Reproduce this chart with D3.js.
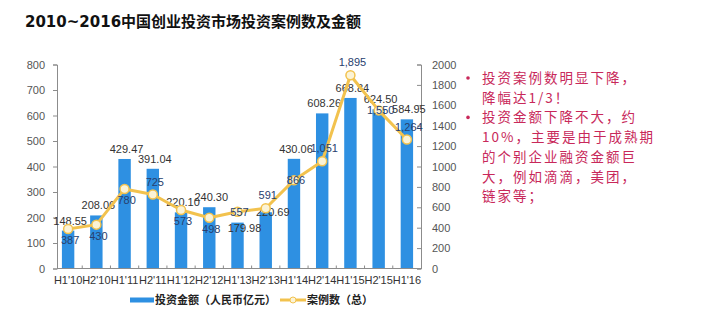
<!DOCTYPE html>
<html><head><meta charset="utf-8">
<script src="https://cdn.jsdelivr.net/npm/d3@7"></script>
<style>
html,body{margin:0;padding:0;background:#fff;}
svg{display:block;font-family:Arial,"Liberation Sans","Noto Sans CJK SC",sans-serif;}
</style></head>
<body>
<script>
const title = "2010~2016中国创业投资市场投资案例数及金额";
const categories = ["H1'10","H2'10","H1'11","H2'11","H1'12","H2'12","H1'13","H2'13","H1'14","H2'14","H1'15","H2'15","H1'16"];
const amount = [148.55,208.06,429.47,391.04,220.10,240.30,179.98,220.69,430.06,608.26,668.84,624.50,584.95];
const cases = [387,430,780,725,573,498,557,591,866,1051,1895,1550,1264];
const amountPlacement = ["above","above","above","above","above","above","inside","center","above","above","above","above","above"];
const casePlacement = ["below","below","below","above","below","below","center","above","center","above","above","center","above"];
const leftTicks = [0,100,200,300,400,500,600,700,800];
const rightTicks = [0,200,400,600,800,1000,1200,1400,1600,1800,2000];
const legendNames = ["投资金额（人民币亿元）","案例数（总）"];
const notes = [
  ["投资案例数明显下降，","降幅达1/3！"],
  ["投资金额下降不大，约","10%，主要是由于成熟期","的个别企业融资金额巨","大，例如滴滴，美团，","链家等；"]
];

(function(){
const W=702,H=325;
const svg=d3.select("body").append("svg").attr("width",W).attr("height",H);
const barColor="#2e90e2", lineColor="#f2c24e", textRed="#c8285a", axisColor="#8c8c8c";

svg.append("text").attr("x",25).attr("y",27).text(title)
  .attr("font-family","'DejaVu Sans','Noto Sans CJK SC',sans-serif").attr("font-size",15).attr("font-weight",700).attr("fill","#111");

const pLeft=57, pRight=421, pTop=64.5, pBottom=268.5;
const x=d3.scaleBand().domain(categories).range([54,pRight]).paddingInner(0.56).paddingOuter(0.28);
const yL=d3.scaleLinear().domain([0,800]).range([pBottom,pTop]);
const yR=d3.scaleLinear().domain([0,2000]).range([pBottom,pTop]);

// bars
svg.append("g").selectAll("rect").data(amount).join("rect")
  .attr("x",(d,i)=>x(categories[i])).attr("width",x.bandwidth())
  .attr("y",d=>yL(d)).attr("height",d=>yL(0)-yL(d)).attr("fill",barColor);

// axes
const gL=svg.append("g").attr("transform",`translate(${pLeft},0)`)
  .call(d3.axisLeft(yL).tickValues(leftTicks).tickSize(4).tickPadding(8));
const gR=svg.append("g").attr("transform",`translate(${pRight},0)`)
  .call(d3.axisRight(yR).tickValues(rightTicks).tickFormat(d3.format("d")).tickSize(-4).tickPadding(11));
[gL,gR].forEach(g=>{
  g.select(".domain").attr("stroke",axisColor);
  g.selectAll(".tick line").attr("stroke",axisColor);
  g.selectAll(".tick text").attr("fill","#555").attr("font-size",11).attr("font-family","Arial,'Liberation Sans',sans-serif");
});
const gX=svg.append("g").attr("transform",`translate(0,${pBottom})`)
  .call(d3.axisBottom(x).tickSize(0).tickPadding(6));
gX.select(".domain").attr("stroke",axisColor).attr("d",`M${pLeft},0H${pRight}`);
gX.selectAll(".tick text").attr("fill","#333").attr("font-size",11).attr("font-family","Arial,'Liberation Sans',sans-serif").attr("dy","0.9em");
const bounds=categories.slice(1).map(c=>x(c)-x.step()*x.paddingInner()/2);
svg.append("g").selectAll("line").data(bounds).join("line")
  .attr("x1",d=>d).attr("x2",d=>d).attr("y1",pBottom).attr("y2",pBottom-3).attr("stroke",axisColor);

// bar labels
const aOff={above:-6,inside:9,center:4};
svg.append("g").selectAll("text").data(amount).join("text")
  .attr("x",(d,i)=>x(categories[i])+x.bandwidth()/2+(amountPlacement[i]==="above"?2:7)).attr("y",(d,i)=>yL(d)+aOff[amountPlacement[i]])
  .attr("text-anchor","middle").attr("font-size",11).attr("fill","#333").text(d=>d.toFixed(2));

// line
const cx=(i)=>x(categories[i])+x.bandwidth()/2;
svg.append("path").datum(cases)
  .attr("d",d3.line().x((d,i)=>cx(i)).y(d=>yR(d)))
  .attr("fill","none").attr("stroke",lineColor).attr("stroke-width",3).attr("stroke-linejoin","round");
svg.append("g").selectAll("circle").data(cases).join("circle")
  .attr("cx",(d,i)=>cx(i)).attr("cy",d=>yR(d)).attr("r",4.5)
  .attr("fill","#fbf3d6").attr("stroke",lineColor).attr("stroke-width",1.5);
const fmt=d3.format(",");
svg.append("g").selectAll("text").data(cases).join("text")
  .attr("x",(d,i)=>cx(i)+2)
  .attr("y",(d,i)=>yR(d)+(casePlacement[i]==="above"?-9:casePlacement[i]==="below"?15:4))
  .attr("text-anchor","middle").attr("font-size",11).attr("fill","#27406e").text(d=>fmt(d));

// legend
const lg=svg.append("g").attr("font-family","'Noto Sans CJK SC',sans-serif").attr("font-weight",700).attr("font-size",11).attr("fill","#222");
lg.append("rect").attr("x",130).attr("y",297.5).attr("width",24).attr("height",5).attr("fill",barColor);
lg.append("text").attr("x",155).attr("y",304).text(legendNames[0]);
lg.append("line").attr("x1",280).attr("x2",306).attr("y1",300).attr("y2",300).attr("stroke",lineColor).attr("stroke-width",3);
lg.append("circle").attr("cx",293).attr("cy",300).attr("r",3).attr("fill","#fbf3d6").attr("stroke",lineColor).attr("stroke-width",1);
lg.append("text").attr("x",307).attr("y",304).text(legendNames[1]);

// notes
const ng=svg.append("g").attr("font-family","'Noto Sans CJK SC',sans-serif").attr("font-size",13.5).attr("fill",textRed);
let ly=83;
notes.forEach(par=>{
  ng.append("circle").attr("cx",468).attr("cy",ly-5).attr("r",1.8).attr("fill",textRed);
  par.forEach(line=>{
    ng.append("text").attr("x",482).attr("y",ly).attr("letter-spacing",2).text(line);
    ly+=19.7;
  });
});
})();
</script>
</body></html>
